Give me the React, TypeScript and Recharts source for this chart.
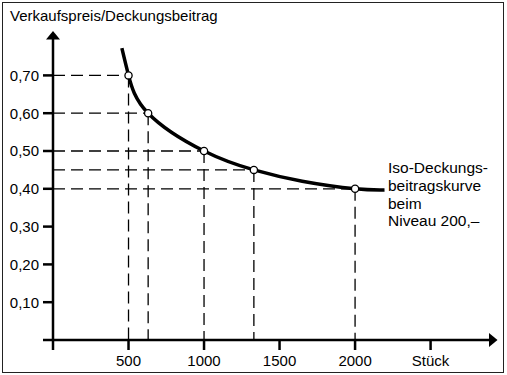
import { ComposedChart, Line, XAxis, YAxis, ReferenceLine } from "recharts";

// marked points on the iso curve (Stück / Verkaufspreis)
const quantities = [500, 630, 1000, 1330, 2000];
const prices = [0.7, 0.6, 0.5, 0.45, 0.4];

// points
const curveX = [456, 500, 630, 1000, 1330, 1650, 2000, 2195];
const curveY = [0.772, 0.7, 0.6, 0.5, 0.45, 0.42, 0.4, 0.397];

const yTicks = [0, 0.1, 0.2, 0.3, 0.4, 0.5, 0.6, 0.7];
const xTicks = [0, 500, 1000, 1500, 2000, 2500];
const xTickLabels = ["", "500", "1000", "1500", "2000", "Stück"];

const title = "Verkaufspreis/Deckungsbeitrag";
const annotationLines = ["Iso-Deckungs-", "beitragskurve", "beim", "Niveau 200,–"];

const FONT = '"Liberation Sans", Arial, Helvetica, sans-serif';
const INK = "#000";

const curveData = curveX.map((x, i) => ({ x, y: curveY[i] }));
const pointData = quantities.map((x, i) => ({ x, y: prices[i] }));

const dash = { stroke: "#000", strokeWidth: 1.3, strokeDasharray: "12 6" };

export default function App() {
  return (
    <div
      style={{
        position: "absolute",
        left: 0,
        top: 0,
        width: 507,
        height: 375,
        background: "#fff",
        fontFamily: FONT,
      }}
    >
      <div
        style={{
          position: "absolute",
          left: 2,
          top: 2,
          width: 501.5,
          height: 371,
          boxSizing: "border-box",
          border: "1.5px solid #222",
        }}
      />
      <ComposedChart
        width={507}
        height={375}
        data={curveData}
        margin={{ top: 37.6, right: 16, bottom: 0, left: 0 }}
      >
        <defs>
          <marker
            id="arrowHead"
            markerUnits="userSpaceOnUse"
            markerWidth={10}
            markerHeight={14}
            refX={2}
            refY={7}
            orient="auto-start-reverse"
            viewBox="0 0 10 14"
          >
            <path d="M0,0 L8.5,7 L0,14 z" fill="#000" />
          </marker>
        </defs>
        <XAxis
          type="number"
          dataKey="x"
          domain={[0, 2900]}
          ticks={xTicks}
          interval={0}
          allowDataOverflow
          height={35}
          tickSize={10}
          tickMargin={5}
          axisLine={{ stroke: "#000", strokeWidth: 2.5, markerEnd: "url(#arrowHead)" }}
          tickLine={{ stroke: "#000", strokeWidth: 2.5 }}
          tick={{ fill: INK, fontSize: 15, fontFamily: FONT }}
          tickFormatter={(v: number) => xTickLabels[xTicks.indexOf(v)] ?? ""}
        />
        <YAxis
          type="number"
          domain={[0, 0.8]}
          ticks={yTicks}
          interval={0}
          allowDataOverflow
          width={53}
          tickSize={10}
          tickMargin={4}
          axisLine={{ stroke: "#000", strokeWidth: 2.5, markerStart: "url(#arrowHead)" }}
          tickLine={{ stroke: "#000", strokeWidth: 2.5 }}
          tick={{ fill: INK, fontSize: 15, fontFamily: FONT }}
          tickFormatter={(v: number) => (v === 0 ? "" : v.toFixed(2).replace(".", ","))}
        />
        {pointData.map((p) => (
          <ReferenceLine
            key={"h" + p.x}
            segment={[
              { x: 0, y: p.y },
              { x: p.x, y: p.y },
            ]}
            {...dash}
          />
        ))}
        {pointData.map((p) => (
          <ReferenceLine
            key={"v" + p.x}
            segment={[
              { x: p.x, y: p.y },
              { x: p.x, y: 0 },
            ]}
            {...dash}
          />
        ))}
        <Line
          data={curveData}
          dataKey="y"
          type="natural"
          stroke="#000"
          strokeWidth={3.5}
          dot={false}
          activeDot={false}
          isAnimationActive={false}
        />
        <Line
          data={pointData}
          dataKey="y"
          stroke="none"
          dot={{ r: 3.6, fill: "#fff", stroke: "#000", strokeWidth: 1.3 }}
          activeDot={false}
          isAnimationActive={false}
        />
      </ComposedChart>
      <div
        style={{
          position: "absolute",
          left: 10,
          top: 8.3,
          fontSize: 15,
          lineHeight: 1,
          color: INK,
          whiteSpace: "nowrap",
        }}
      >
        {title}
      </div>
      <div
        style={{
          position: "absolute",
          left: 388,
          top: 159,
          fontSize: 15.5,
          lineHeight: "17.8px",
          color: INK,
          whiteSpace: "nowrap",
        }}
      >
        {annotationLines.map((l) => (
          <div key={l}>{l}</div>
        ))}
      </div>
    </div>
  );
}
